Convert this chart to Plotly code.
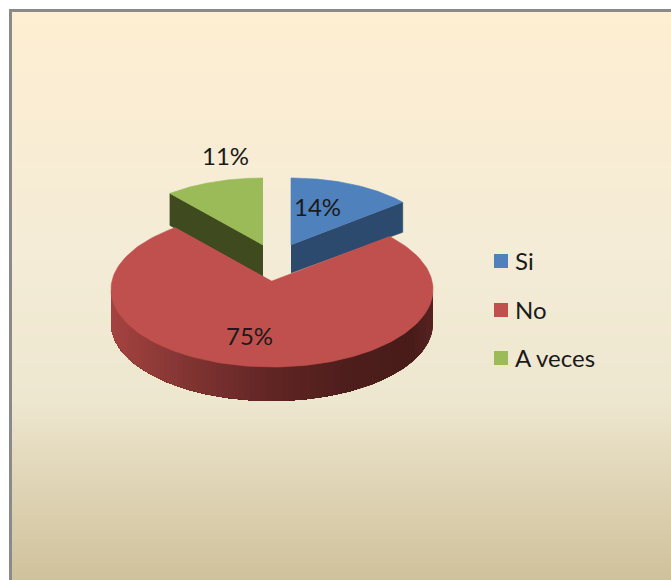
import numpy as np
import plotly.graph_objects as go

categories = ['Si', 'No', 'A veces']
values = [14, 75, 11]
top_colors = ['#4f81bd', '#c0504d', '#9bbb59']
cut_colors = ['#2c4a6e', '#4a1c1a', '#3f4a1f']

# fondo degradado: posicion relativa y color
bg_stops = [0.0, 0.42, 0.68, 0.80, 1.0]
bg_colors = ['#feeed2', '#f4ecd6', '#eee7d0', '#e2d8bb', '#cfc19b']

W, H = 671, 580
FONT = 'Lato'
DEPTH = 34
FAR_SQUEEZE = 0.93  # la perspectiva aprieta los angulos del fondo


def arc(cx, cy, rx, ry, a0, a1, n=60):
    t = np.radians(np.linspace(a0, a1, n))
    return cx + rx * np.sin(t), cy - ry * np.cos(t)


def side_color(x):
    # lado rojo: claro a la izquierda, oscuro a la derecha
    px = [0, 0.25, 0.5, 0.75, 0.93, 1]
    cr = [165, 128, 96, 78, 72, 88]
    cg = [68, 52, 38, 30, 28, 36]
    cb = [65, 50, 36, 28, 26, 34]
    return 'rgb(%d,%d,%d)' % (np.interp(x, px, cr), np.interp(x, px, cg), np.interp(x, px, cb))


def poly(xs, ys, color, edge=0.6):
    return go.Scatter(x=list(xs), y=list(ys), mode='lines', fill='toself', fillcolor=color,
                      line=dict(width=edge, color=color), hoverinfo='skip', showlegend=False)


fig = go.Figure()

# fondo
edges = np.arange(12, H + 2, 2)
mids = (edges[:-1] + edges[1:]) / 2
z = [[(m - 12) / (H - 12)] for m in mids]
colorscale = [[s, c] for s, c in zip(bg_stops, bg_colors)]
fig.add_trace(go.Heatmap(x=[12, W], y=edges, z=z, colorscale=colorscale, zmin=0, zmax=1,
                         showscale=False, hoverinfo='skip'))

shares = [v / sum(values) * 360 for v in values]
si_end = shares[0]
no_end = si_end + shares[1]

# porcion Si (separada)
sx, sy = 291, 245
ax, ay = arc(sx, sy, 145, 67, 0, si_end)
cut_d = 30
fig.add_trace(poly([sx, ax[-1], ax[-1], sx], [sy, ay[-1], ay[-1] + cut_d, sy + cut_d - 2], cut_colors[0]))
fig.add_trace(poly(np.r_[sx, ax], np.r_[sy, ay], top_colors[0]))

# porcion A veces (separada)
gx, gy = 263, 245
ax, ay = arc(gx, gy, 146, 67, no_end, 360)
fig.add_trace(poly([gx, ax[0], ax[0], gx], [gy, ay[0], ay[0] + cut_d + 2, gy + cut_d + 2], cut_colors[2]))
fig.add_trace(poly(np.r_[gx, ax], np.r_[gy, ay], top_colors[2]))

# porcion No: el lado con degradado y la tapa
cx, cy, rx, ry = 272, 289.5, 161, 77.5
bx, by = arc(cx, cy, rx, ry, 90, 270, n=181)
by_bottom = by + DEPTH
# de derecha a izquierda, cada tira tapa el resto hasta el final de la banda
for i in range(0, 180, 2):
    shade = side_color((bx[i] + bx[min(i + 2, 180)]) / 2 / (2 * rx) - (cx - rx) / (2 * rx))
    fig.add_trace(poly(np.r_[bx[i:], bx[i:][::-1]], np.r_[by[i:], by_bottom[i:][::-1]], shade, edge=0))
ax, ay = arc(cx, cy, rx, ry, si_end * FAR_SQUEEZE, 360 - (360 - no_end) * FAR_SQUEEZE, n=160)
fig.add_trace(poly(np.r_[272, ax], np.r_[281, ay], top_colors[1]))

# leyenda
legend_key_x = 501
legend_text_x = 513
legend_y = [261, 310, 358]
fig.add_trace(go.Scatter(x=[legend_key_x] * 3, y=legend_y, mode='markers',
                         marker=dict(symbol='square', size=14, color=top_colors),
                         hoverinfo='skip', showlegend=False))
annotations = [dict(x=legend_text_x, y=y - 1, text=name, showarrow=False, xanchor='left',
                    font=dict(family=FONT, size=24, color='#1a1a1a'))
               for name, y in zip(categories, legend_y)]

# etiquetas
label_pos = [(317, 206), (249, 335), (225, 155)]
annotations += [dict(x=p[0], y=p[1], text='%d%%' % v, showarrow=False,
                     font=dict(family=FONT, size=24, color='#1a1a1a'))
                for p, v in zip(label_pos, values)]

# marco gris
border = dict(type='line', line=dict(color='#8a8a8a', width=3), xref='x', yref='y')
shapes = [dict(border, x0=10.5, x1=10.5, y0=9, y1=H),
          dict(border, x0=9, x1=W, y0=10.5, y1=10.5)]

fig.update_layout(
    width=W, height=H,
    margin=dict(l=0, r=0, t=0, b=0),
    paper_bgcolor='white',
    plot_bgcolor='rgba(0,0,0,0)',
    xaxis=dict(range=[0, W], visible=False, fixedrange=True),
    yaxis=dict(range=[H, 0], visible=False, fixedrange=True),
    annotations=annotations,
    shapes=shapes,
    showlegend=False,
)

fig.write_html("out.html", config=dict(displayModeBar=False),
               post_script="document.body.style.margin='0';")
